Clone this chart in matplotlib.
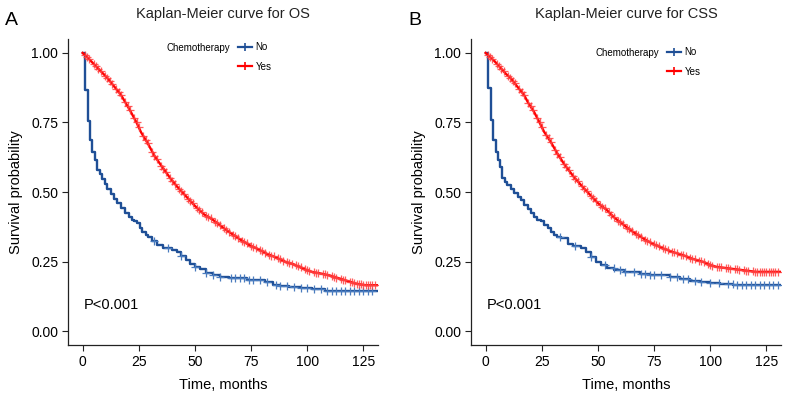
import numpy as np
import matplotlib
matplotlib.use("Agg")
import matplotlib.pyplot as plt
from matplotlib.lines import Line2D

plt.rcParams['font.family'] = ['Liberation Sans', 'DejaVu Sans']

# ---- data (time in months, survival probability) ----
# panel A : OS
os_no_t = [0, 1.2, 2.2, 3.4, 4.4, 5.5, 6.6, 7.7, 8.8, 10, 11, 12.5, 14, 15.5, 16.9, 18.7, 20.6, 22, 23,
           24.3, 25.5, 26.5, 28, 29, 31, 33, 36, 40, 42, 44, 46, 48, 50, 52.3, 55, 58, 61, 65, 68.5, 73,
           77.3, 81, 84.6, 88, 92, 97, 102, 108, 131]
os_no_s = [1.0, 0.867, 0.755, 0.687, 0.645, 0.615, 0.579, 0.563, 0.548, 0.528, 0.51, 0.493, 0.475, 0.46,
           0.443, 0.425, 0.41, 0.4, 0.395, 0.387, 0.37, 0.355, 0.345, 0.338, 0.323, 0.31, 0.298, 0.29,
           0.285, 0.27, 0.255, 0.242, 0.232, 0.225, 0.21, 0.2, 0.193, 0.19, 0.19, 0.185, 0.183, 0.175,
           0.165, 0.162, 0.157, 0.155, 0.151, 0.145, 0.145]
os_yes_t = [0, 2, 5, 8, 11, 14, 17, 21, 24, 26, 29, 32, 35, 39, 42, 46, 50, 54, 58, 62, 66, 70, 74, 78,
            82, 86, 90, 94, 98, 102, 106, 110, 114, 118, 122, 126, 131]
os_yes_s = [1.0, 0.985, 0.96, 0.935, 0.91, 0.88, 0.85, 0.795, 0.75, 0.715, 0.675, 0.63, 0.595, 0.55, 0.52,
            0.485, 0.45, 0.42, 0.40, 0.375, 0.352, 0.33, 0.31, 0.295, 0.278, 0.265, 0.25, 0.24, 0.225, 0.213,
            0.207, 0.2, 0.19, 0.18, 0.17, 0.165, 0.165]

# panel B : CSS
css_no_t = [0, 1.2, 2.4, 3.5, 4.5, 5.6, 6.5, 7.5, 8.6, 9.7, 11.2, 12.7, 14.2, 15.7, 17.2, 18.7, 20, 21.5,
            23, 24.6, 26, 27.6, 29, 30.4, 32, 33.5, 36.5, 39, 42.3, 44.5, 46.8, 49, 51.2, 54, 57.1, 61.4,
            63, 68.9, 73, 77.7, 82, 86.6, 91, 95.4, 100, 104.3, 110.2, 131]
css_no_s = [1.0, 0.875, 0.759, 0.687, 0.645, 0.615, 0.59, 0.55, 0.537, 0.525, 0.51, 0.495, 0.483, 0.471,
            0.455, 0.44, 0.425, 0.41, 0.4, 0.395, 0.382, 0.369, 0.357, 0.345, 0.34, 0.335, 0.314, 0.305,
            0.297, 0.285, 0.267, 0.25, 0.237, 0.228, 0.219, 0.213, 0.211, 0.205, 0.203, 0.2, 0.195, 0.186,
            0.18, 0.177, 0.172, 0.17, 0.165, 0.165]
css_yes_t = [0, 2, 4, 6.8, 9, 11.2, 14, 17.1, 19, 21.5, 24, 26, 29, 31.9, 35, 39.2, 43, 46.6, 50, 54,
             57, 60.6, 65, 70.2, 74, 79.1, 83, 87.9, 92, 96.8, 100, 102.7, 108.6, 114.5, 120.4, 131]
css_yes_s = [1.0, 0.985, 0.97, 0.945, 0.925, 0.909, 0.88, 0.849, 0.82, 0.789, 0.75, 0.717, 0.68, 0.639,
             0.6, 0.555, 0.52, 0.489, 0.46, 0.435, 0.41, 0.387, 0.36, 0.333, 0.315, 0.297, 0.285, 0.273,
             0.26, 0.249, 0.238, 0.231, 0.225, 0.219, 0.213, 0.213]

# censoring marks (months)
os_no_cens = [32, 38, 44, 50, 55, 58, 61, 66, 68, 70, 72, 74, 76, 79, 82, 86, 88, 91, 94, 97, 100, 103,
              106, 109, 111, 113, 115, 117, 119, 121, 123, 125, 127, 129]
css_no_cens = [33, 40, 47, 53, 57, 60, 62, 66, 69, 71, 73, 75, 78, 82, 85, 88, 90, 93, 96, 100, 104, 108,
               110, 112, 114, 116, 118, 120, 122, 124, 126, 128, 130]
yes_cens = [1, 2, 3, 5, 6, 7, 8, 10, 11, 12, 13, 15, 16, 17, 19, 20, 21, 23, 24, 25, 27, 28, 29, 31, 32,
            33, 35, 36, 37, 39, 40, 41, 43, 44, 45, 47, 48, 49, 51, 52, 53, 55, 56, 57, 59, 60, 61, 63,
            64, 65, 67, 68, 69, 71, 72, 73, 75, 76, 77, 79, 80, 81, 83, 84, 85, 87, 88, 89, 91, 92, 93,
            95, 96, 97, 99, 100, 101, 103, 104, 105, 107, 108, 109, 111, 112, 113, 115, 116, 117, 119,
            120, 121, 122, 123, 124, 125, 126, 127, 128, 129, 130]

x_ticks = [0, 25, 50, 75, 100, 125]
y_ticks = [0.0, 0.25, 0.50, 0.75, 1.00]

BLUE = '#1f4f96'
BLUE_C = '#4a7cbf'
RED = '#ff0000'
RED_C = '#ff4040'

W, H = 785, 397
fig = plt.figure(figsize=(W / 100, H / 100), dpi=100)


def step_value(t, s, c):
    t = np.asarray(t)
    s = np.asarray(s)
    idx = np.searchsorted(t, c, side='right') - 1
    return s[idx]


def km_panel(left, no_t, no_s, yes_t, yes_s, no_c, title, letter, leg_x, leg_y):
    ax = fig.add_axes([left / W, 1 - 345 / H, 310 / W, 306 / H])
    ax.step(no_t, no_s, where='post', color=BLUE, lw=1.7, zorder=3)
    # the chemotherapy curve has so many tiny steps that it reads as a line
    ax.plot(yes_t, yes_s, color=RED, lw=1.7, zorder=3)
    c = np.asarray(no_c)
    ax.plot(c, step_value(no_t, no_s, c), ls='none', marker='+', ms=5.5, mew=0.9, color=BLUE_C, zorder=4)
    c = np.asarray(yes_cens)
    ax.plot(c, np.interp(c, yes_t, yes_s), ls='none', marker='+', ms=6, mew=0.9, color=RED_C,
            alpha=0.85, zorder=4)

    ax.set_xlim(-6.5, 131.5)
    ax.set_ylim(-0.05, 1.05)
    ax.set_xticks(x_ticks)
    ax.set_yticks(y_ticks)
    ax.set_yticklabels(['%.2f' % v for v in y_ticks])
    for sp in ['top', 'right']:
        ax.spines[sp].set_visible(False)
    for sp in ['left', 'bottom']:
        ax.spines[sp].set_color('#222222')
        ax.spines[sp].set_linewidth(0.9)
    ax.tick_params(length=4, width=0.8, color='#222222', labelsize=10, pad=3)
    ax.set_xlabel('Time, months', fontsize=10.5, labelpad=7)
    ax.set_ylabel('Survival probability', fontsize=10.5, labelpad=6)
    ax.text(0.5, 0.095, 'P<0.001', fontsize=10.5, ha='left', va='center')

    cx = (left + 155) / W
    fig.text(cx, 1 - 18 / H, title, ha='center', va='baseline', fontsize=10.5, color='#222222')
    fig.text((left - 63) / W, 1 - 25 / H, letter, ha='left', va='baseline', fontsize=14)

    handles = [Line2D([], [], color=BLUE, lw=1.6, marker='+', ms=6, mew=1.2),
               Line2D([], [], color=RED, lw=1.6, marker='+', ms=6, mew=1.2)]
    ax.legend(handles, ['No', 'Yes'], loc='upper left', bbox_to_anchor=(leg_x / W, 1 - (leg_y - 6) / H),
              bbox_transform=fig.transFigure, frameon=False, fontsize=7, handlelength=1.4,
              handletextpad=0.4, labelspacing=1.0, borderpad=0, borderaxespad=0)
    fig.text((leg_x - 8) / W, 1 - leg_y / H, 'Chemotherapy', ha='right', va='center', fontsize=7)
    return ax


km_panel(68, os_no_t, os_no_s, os_yes_t, os_yes_s, os_no_cens, 'Kaplan-Meier curve for OS', 'A', 238, 48)
km_panel(471, css_no_t, css_no_s, css_yes_t, css_yes_s, css_no_cens, 'Kaplan-Meier curve for CSS', 'B', 667, 53)

fig.savefig('out.png', dpi=100)
